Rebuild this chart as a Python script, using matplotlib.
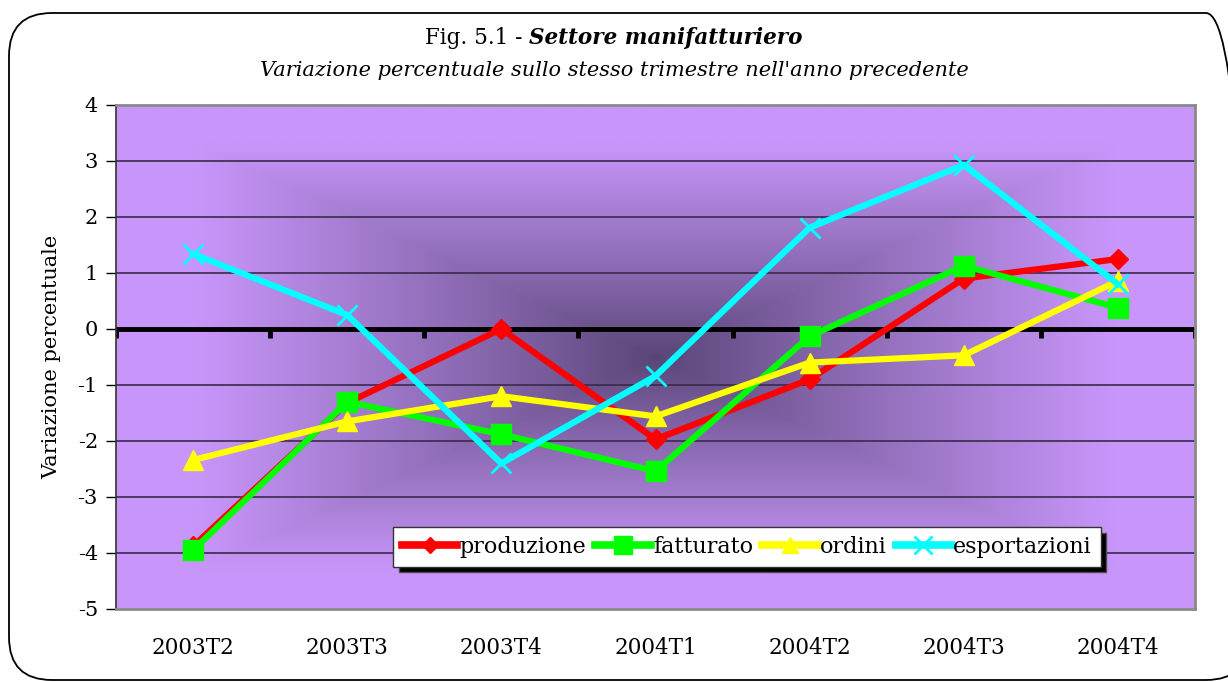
import numpy as np
import matplotlib.pyplot as plt
from matplotlib.patches import FancyBboxPatch
from matplotlib.lines import Line2D

# Data
quarters = ['2003T2', '2003T3', '2003T4', '2004T1', '2004T2', '2004T3', '2004T4']
produzione = [-3.88, -1.32, 0.0, -1.97, -0.9, 0.9, 1.25]
fatturato = [-3.95, -1.3, -1.88, -2.54, -0.13, 1.13, 0.38]
ordini = [-2.34, -1.65, -1.2, -1.56, -0.6, -0.47, 0.86]
esportazioni = [1.34, 0.25, -2.4, -0.84, 1.81, 2.93, 0.8]

series_names = ['produzione', 'fatturato', 'ordini', 'esportazioni']
series = [produzione, fatturato, ordini, esportazioni]
colors = ['#ff0000', '#00ff00', '#ffff00', '#00ffff']
markers = ['D', 's', '^', 'x']
msizes = [10, 15, 14, 15]

W, H = 1228, 682
fig = plt.figure(figsize=(W / 100, H / 100), dpi=100)
plt.rcParams['font.family'] = ['DejaVu Serif']

# rounded outer frame
frame = FancyBboxPatch((9 / W, 2 / H), 1240 / W, 667 / H,
                       boxstyle='round,pad=0,rounding_size=0.035',
                       transform=fig.transFigure, fill=False,
                       edgecolor='black', lw=1.3, mutation_aspect=W / H)
fig.patches.append(frame)

ax = fig.add_axes([116 / W, 1 - 609 / H, (1195 - 116) / W, (609 - 105) / H])
xmin, xmax = -0.5, len(quarters) - 0.5
ymin, ymax = -5, 4
ax.set_xlim(xmin, xmax)
ax.set_ylim(ymin, ymax)

# rectangular "from center" gradient background
nx, ny = 400, 240
gx = np.linspace(-1, 1, nx)
gy = np.linspace(-1, 1, ny)
GX, GY = np.meshgrid(gx, gy)
t = np.maximum(np.abs(GX), np.abs(GY))
t = np.clip(t / 0.85, 0, 1) ** 0.9
c_center = np.array([0x58, 0x45, 0x76]) / 255
c_edge = np.array([0xc8, 0x96, 0xfa]) / 255
img = c_center + (c_edge - c_center) * t[..., None]
ax.imshow(img, extent=[xmin, xmax, ymin, ymax], aspect='auto', zorder=0,
          interpolation='bilinear')

# grid
for yv in range(ymin + 1, ymax):
    if yv != 0:
        ax.axhline(yv, color='#3a2a4a', lw=1.2, zorder=1)
ax.axhline(0, color='black', lw=3.5, zorder=2)
bounds = np.arange(len(quarters) + 1) - 0.5
ax.vlines(bounds, -0.16, 0, color='black', lw=3.5, zorder=2)

for vals, name, c, m, ms in zip(series, series_names, colors, markers, msizes):
    ax.plot(range(len(quarters)), vals, color=c, lw=4.5, marker=m,
            markersize=ms, markeredgewidth=2 if m == 'x' else 1,
            markeredgecolor=c, zorder=3, label=name, solid_joinstyle='miter')

ax.set_xticks(range(len(quarters)))
ax.set_xticklabels(quarters, fontsize=15.5)
ax.tick_params(axis='x', length=0, pad=20)
ax.set_yticks(range(ymin, ymax + 1))
ax.set_yticklabels([str(v) for v in range(ymin, ymax + 1)], fontsize=15)
ax.tick_params(axis='y', length=7, width=1, direction='out', pad=6)

for s in ['top', 'right', 'bottom']:
    ax.spines[s].set_color('#8a8a8a')
    ax.spines[s].set_linewidth(2)
ax.spines['left'].set_color('#333333')
ax.spines['left'].set_linewidth(1.2)

ax.set_ylabel('Variazione percentuale', fontsize=15, labelpad=12)

# legend
handles = [Line2D([], [], color=c, lw=5.5, marker=m, markersize=ms * 0.85,
                  markeredgecolor=c, markeredgewidth=2 if m == 'x' else 1)
           for c, m, ms in zip(colors, markers, msizes)]
leg = ax.legend(handles, series_names, loc='upper left',
                bbox_to_anchor=((393 - 116) / (1195 - 116), (609 - 527) / (609 - 105)),
                ncol=4, fontsize=16, frameon=True, fancybox=False,
                handlelength=2.5, handletextpad=0.1, columnspacing=0.4,
                borderpad=0.4, borderaxespad=0,
                shadow={'ox': 4, 'oy': -4, 'facecolor': 'black', 'alpha': 1})
leg.get_frame().set_edgecolor('#333333')
leg.get_frame().set_linewidth(1)
leg.get_frame().set_alpha(1)
leg.set_zorder(5)

# titles: regular part + bold italic part, centred together
r = fig.canvas.get_renderer()
a = fig.text(0, 1 - 38 / H, 'Fig. 5.1 - ', fontsize=15.5, va='center')
b = fig.text(0, 1 - 38 / H, 'Settore manifatturiero', fontsize=15.5,
             va='center', style='italic', weight='bold')
wa = a.get_window_extent(r).width
wb = b.get_window_extent(r).width
x0 = 614 - (wa + wb) / 2
a.set_x(x0 / W)
b.set_x((x0 + wa) / W)
fig.text(614 / W, 1 - 70 / H,
         "Variazione percentuale sullo stesso trimestre nell'anno precedente",
         fontsize=15, style='italic', ha='center', va='center')

fig.savefig('out.png', dpi=100)
